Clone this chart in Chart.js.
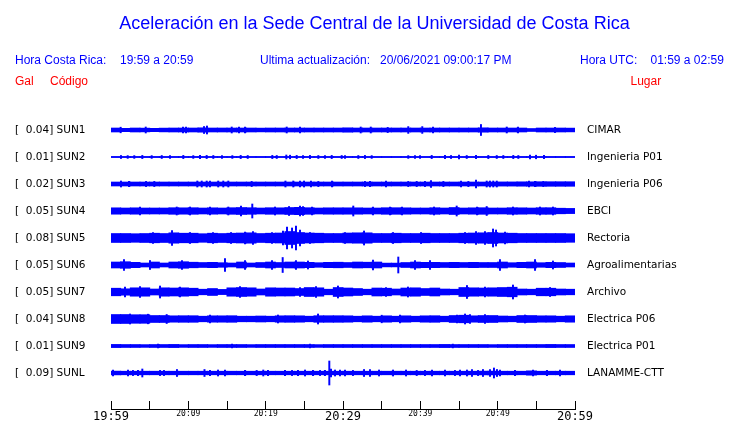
<!DOCTYPE html>
<html>
<head>
<meta charset="utf-8">
<script src="https://cdn.jsdelivr.net/npm/chart.js@4"></script>
<style>
  html, body { margin: 0; padding: 0; background: #fff; }
  #wrap { position: relative; width: 740px; height: 423px; overflow: hidden; }
  #chart { position: absolute; left: 0; top: 0; }
  .t { position: absolute; font-family: "Liberation Sans", Arial, sans-serif; line-height: 1; white-space: pre; }
  .blue { color: #0000ff; }
  .red { color: #ff0000; }
</style>
</head>
<body>
<div id="wrap">
  <canvas id="chart" width="740" height="423"></canvas>
  <div class="t blue" style="left:374.5px; top:14px; font-size:18px; transform:translateX(-50%);">Aceleración en la Sede Central de la Universidad de Costa Rica</div>
  <div class="t blue" style="left:15px; top:54px; font-size:12px;">Hora Costa Rica:</div>
  <div class="t blue" style="left:120px; top:54px; font-size:12px;">19:59 a 20:59</div>
  <div class="t blue" style="left:260px; top:54px; font-size:12px;">Ultima actualización:</div>
  <div class="t blue" style="left:380px; top:54px; font-size:12px;">20/06/2021 09:00:17 PM</div>
  <div class="t blue" style="left:580px; top:54px; font-size:12px;">Hora UTC:</div>
  <div class="t blue" style="left:650.5px; top:54px; font-size:12px;">01:59 a 02:59</div>
  <div class="t red" style="left:15px; top:75px; font-size:12px;">Gal</div>
  <div class="t red" style="left:50px; top:75px; font-size:12px;">Código</div>
  <div class="t red" style="left:630.5px; top:75px; font-size:12px;">Lugar</div>
</div>
<script>
// stations, peak acceleration (Gal) and site names
const stations = ["SUN1", "SUN2", "SUN3", "SUN4", "SUN5", "SUN6", "SUN7", "SUN8", "SUN9", "SUNL"];
const peakGal = [0.04, 0.01, 0.02, 0.05, 0.08, 0.05, 0.05, 0.04, 0.01, 0.09];
const places = ["CIMAR", "Ingenieria P01", "Ingenieria P06", "EBCI", "Rectoria",
  "Agroalimentarias", "Archivo", "Electrica P06", "Electrica P01", "LANAMME-CTT"];

// time axis, one tick every 5 minutes (19:59 -> 20:59)
const timeLabels = ["19:59", "", "20:09", "", "20:19", "", "20:29", "", "20:39", "", "20:49", "", "20:59"];

// envelope of each trace (half amplitude), 48 slots over the hour
const sun1Band = [2.0,1.7,2.0,1.9,1.7,1.9,2.0,2.0,2.0,2.2,2.0,2.0,2.0,2.0,2.0,1.9,2.0,2.0,2.0,2.0,2.0,2.0,2.0,2.0,
  2.2,2.0,2.0,2.0,2.0,2.0,2.0,2.0,2.0,2.0,2.0,2.0,2.0,2.0,2.2,2.0,2.0,2.0,2.0,1.5,2.0,2.0,2.0,1.9];
const sun2Band = [0.6,0.6,0.6,0.6,0.6,0.6,0.6,0.6,0.6,0.6,0.6,0.6,0.6,0.6,0.6,0.6,0.6,0.6,0.6,0.6,0.6,0.6,0.6,0.6,
  0.6,0.6,0.6,0.6,0.6,0.6,0.6,0.6,0.6,0.6,0.6,0.6,0.6,0.6,0.6,0.6,0.6,0.6,0.6,0.6,0.6,0.6,0.6,0.6];
const sun3Band = [2.0,2.0,2.0,2.0,2.0,2.0,2.0,2.0,2.0,2.0,2.0,2.0,2.0,2.0,2.0,2.0,2.0,2.0,2.0,2.0,2.0,2.0,2.0,2.0,
  2.0,2.0,2.0,2.0,2.0,2.0,2.0,2.0,2.0,2.0,2.0,2.0,2.0,2.0,2.0,2.0,2.1,2.1,2.2,2.2,2.3,2.3,2.3,2.3];
const sun4Band = [3.2,3.0,3.2,3.0,3.0,3.0,3.3,3.2,3.3,3.0,3.2,3.0,3.3,3.5,3.3,3.0,3.3,3.2,3.5,3.7,3.3,3.0,3.2,3.2,
  3.2,3.2,3.0,3.0,3.3,3.3,3.2,3.0,3.0,3.3,3.0,3.5,3.0,3.2,3.3,3.0,3.0,3.3,3.2,3.0,3.3,3.3,2.8,2.6];
const sun5Band = [4.5,4.5,4.3,4.5,4.8,4.5,5.2,4.8,4.8,4.3,4.8,4.5,4.8,5.0,5.2,4.5,4.8,5.0,6.5,5.5,5.0,4.8,4.5,4.5,
  5.0,5.2,5.2,4.5,4.5,4.8,4.5,4.5,4.8,4.5,4.5,4.5,4.8,5.0,5.2,5.5,5.0,4.8,4.5,4.5,4.5,4.5,4.5,4.3];
const sun6Band = [3.0,3.3,2.7,2.0,3.0,2.0,3.0,3.3,2.8,2.5,2.7,2.3,2.0,3.0,2.0,2.5,3.0,2.5,3.0,3.0,2.7,2.3,2.7,2.8,
  2.5,3.0,2.8,3.0,1.9,1.9,2.5,3.0,2.7,2.7,2.5,2.7,2.5,2.7,2.5,2.5,3.0,2.3,2.7,3.0,2.3,2.7,2.5,2.0];
const sun7Band = [3.8,3.2,4.2,4.2,3.0,4.2,4.0,4.2,3.8,2.8,3.5,2.6,4.2,4.5,4.2,3.0,4.2,4.0,4.0,3.5,4.5,4.2,2.8,4.5,
  4.0,3.5,2.8,4.0,3.8,3.0,4.0,4.2,3.5,4.0,3.0,2.8,4.5,4.2,4.0,4.2,4.5,4.8,3.0,2.8,3.8,3.8,3.0,2.8];
const sun8Band = [4.5,4.5,4.3,4.3,3.5,3.5,3.2,3.3,3.3,2.8,3.2,3.2,3.3,2.8,2.8,3.0,2.8,3.2,3.3,3.2,2.8,3.3,3.3,3.3,
  3.2,2.8,3.2,2.8,3.2,2.8,3.2,2.8,3.2,3.3,2.8,3.5,3.8,3.2,3.5,3.5,3.0,2.8,3.5,3.5,3.2,3.2,2.8,3.2];
const sun9Band = [1.6,1.5,1.5,1.4,1.5,1.5,1.6,1.4,1.5,1.5,1.4,1.5,1.5,1.5,1.4,1.5,1.5,1.5,1.5,1.5,1.5,1.4,1.5,1.5,
  1.5,1.5,1.5,1.5,1.5,1.5,1.5,1.5,1.5,1.5,1.6,1.5,1.5,1.5,1.5,1.4,1.5,1.5,1.5,1.5,1.5,1.6,1.5,1.5];
const sunlBand = [1.9,1.8,1.8,1.8,1.8,1.8,1.8,1.8,1.8,1.8,1.8,1.8,1.8,1.8,1.8,1.8,1.8,1.8,1.8,1.8,1.8,1.8,1.8,1.8,
  1.8,1.8,1.8,1.8,1.8,1.8,1.8,1.8,1.8,1.8,1.8,1.8,1.8,1.8,1.9,1.9,1.8,1.8,1.8,2.2,1.8,1.8,1.8,1.8];

// individual peaks: minute after 19:59 and half amplitude
const sun1PeakMin = [1.25,4.49,9.31,9.70,12.03,12.41,15.61,16.55,17.33,22.72,24.44,32.29,33.59,35.78,38.44,40.25,41.64,47.84,51.17,52.63,57.41];
const sun1PeakAmp = [2.8,3.0,3.0,2.8,3.5,4.0,3.0,3.0,3.0,3.0,3.0,3.0,3.0,2.6,3.4,3.4,3.0,5.5,3.0,3.0,2.6];
const sun2PeakMin = [1.29,2.16,3.01,4.05,5.26,6.56,7.63,9.35,10.64,11.51,12.37,13.23,14.35,15.69,16.77,17.68,20.86,21.43,22.67,23.15,
  24.01,24.83,25.73,26.81,27.67,28.54,29.83,30.26,31.98,32.84,33.71,38.44,39.31,39.96,41.47,43.19,43.97,45.00,46.00,47.20,
  48.79,49.88,50.73,52.02,52.67,54.18,54.96,55.99];
const sun2PeakAmp = [1.5,1.4,1.4,1.6,1.4,1.5,1.4,1.6,1.4,1.6,1.6,1.5,1.4,1.4,1.6,1.5,1.6,1.5,2.0,1.8,
  1.6,1.5,1.6,1.5,1.4,1.6,1.5,1.4,1.5,1.6,1.4,1.4,1.5,1.4,1.6,1.6,1.5,1.8,1.5,1.6,
  1.6,1.5,1.5,1.6,1.5,2.0,1.8,1.6];
const sun3PeakMin = [1.29,2.33,4.53,5.60,11.16,11.73,12.37,12.80,13.87,14.52,15.17,18.19,22.56,23.57,24.44,24.96,25.86,26.81,28.58,
  32.84,33.49,35.56,38.44,39.53,40.60,41.38,42.98,45.26,46.21,47.20,48.58,49.00,49.43,49.88,54.05,54.83,55.90];
const sun3PeakAmp = [3.0,2.6,2.6,2.6,3.0,3.0,3.0,3.0,3.0,3.0,3.0,2.6,3.0,3.0,3.0,3.0,3.0,2.6,3.0,
  2.6,2.6,3.0,2.6,2.6,2.6,3.5,2.6,3.0,2.6,4.0,3.0,3.0,3.0,3.0,3.0,2.6,2.6];
const sun4PeakMin = [3.75,8.50,10.22,12.80,15.17,16.81,18.27,21.21,23.02,24.44,24.83,25.99,31.33,33.88,36.08,37.63,41.77,44.70,47.33,48.58,51.98,55.47,57.15];
const sun4PeakAmp = [4.0,4.0,4.0,3.8,4.0,5.0,7.0,4.0,4.5,5.0,4.5,4.0,5.0,4.0,4.0,4.0,4.0,5.0,4.0,4.5,4.0,4.0,4.0];
const sun5PeakMin = [5.43,7.89,10.22,13.19,15.52,17.33,18.36,20.82,22.24,22.76,23.41,23.92,24.44,25.73,30.26,32.72,36.47,40.09,45.78,47.20,48.36,49.40,49.79,50.95];
const sun5PeakAmp = [5.5,7.5,5.5,5.5,5.5,6.0,6.5,5.5,7.0,11.0,10.0,12.0,8.0,5.5,5.5,7.0,5.5,5.5,5.5,6.5,6.5,9.0,8.0,6.0];
const sun6PeakMin = [1.68,5.04,9.18,14.74,17.33,20.82,22.20,23.92,25.47,33.88,37.15,39.31,41.25,50.30,54.83,57.15];
const sun6PeakAmp = [5.5,4.5,4.5,6.5,4.5,4.5,7.5,4.5,4.0,5.0,8.0,4.5,4.5,5.5,5.5,4.0];
const sun7PeakMin = [1.81,3.75,6.34,8.92,16.68,24.44,26.51,29.35,35.56,38.40,46.03,48.36,51.98,56.77];
const sun7PeakAmp = [5.0,5.5,6.0,5.0,5.5,4.5,5.5,6.0,4.5,5.0,6.5,5.0,7.0,4.5];
const sun8PeakMin = [2.46,4.78,7.20,12.80,21.59,26.77,35.00,37.37,44.74,45.78,46.42,48.36,53.53];
const sun8PeakAmp = [5.0,4.8,4.5,4.0,4.0,5.0,3.8,3.8,4.0,5.0,4.5,4.5,4.0];
const sun9PeakMin = [6.08,15.65,25.73,44.20];
const sun9PeakAmp = [2.0,1.9,1.9,1.9];
const sunlPeakMin = [0.26,2.20,2.84,3.49,4.05,6.34,6.85,8.53,12.09,12.80,13.84,14.74,17.33,18.84,19.69,20.30,22.50,23.41,24.18,25.09,
  26.12,27.03,27.67,28.23,28.45,28.97,29.61,30.26,31.29,32.72,33.49,34.66,36.47,38.15,39.53,40.60,41.51,43.19,44.48,45.13,
  46.03,46.68,47.46,48.10,49.01,49.52,49.91,50.30,52.24,54.57,56.38,58.06];
const sunlPeakAmp = [3.0,3.0,2.6,2.6,4.0,2.6,2.6,3.5,3.5,2.6,3.0,3.0,2.6,2.6,3.0,2.6,2.6,2.6,2.6,3.0,
  2.6,2.6,2.6,12.0,4.0,3.0,3.0,3.0,2.6,3.5,3.5,3.0,3.0,3.0,2.6,2.6,3.0,3.0,2.6,3.0,
  3.0,3.5,2.6,3.5,3.5,5.0,3.5,3.0,2.6,3.0,2.6,3.0];

const bands = [sun1Band, sun2Band, sun3Band, sun4Band, sun5Band, sun6Band, sun7Band, sun8Band, sun9Band, sunlBand];
const peakMins = [sun1PeakMin, sun2PeakMin, sun3PeakMin, sun4PeakMin, sun5PeakMin, sun6PeakMin, sun7PeakMin, sun8PeakMin, sun9PeakMin, sunlPeakMin];
const peakAmps = [sun1PeakAmp, sun2PeakAmp, sun3PeakAmp, sun4PeakAmp, sun5PeakAmp, sun6PeakAmp, sun7PeakAmp, sun8PeakAmp, sun9PeakAmp, sunlPeakAmp];

// layout of the rows on the value axis
const rowGap = 27;
const topRow = 279;
const offsets = stations.map((s, i) => topRow - i * rowGap);
const traceColor = "#0000ff";

const datasets = [];
stations.forEach((s, i) => {
  const off = offsets[i];
  const slot = 60 / bands[i].length;
  datasets.push({
    label: s,
    data: bands[i].map((a, k) => ({ x: (k + 0.5) * slot, y: [off - a, off + a] })),
    backgroundColor: traceColor,
    borderWidth: 0,
    barThickness: 10,
    grouped: false,
  });
  datasets.push({
    label: s + " picos",
    data: peakMins[i].map((m, k) => ({ x: m, y: [off - peakAmps[i][k], off + peakAmps[i][k]] })),
    backgroundColor: traceColor,
    borderWidth: 0,
    barThickness: 1.3,
    grouped: false,
  });
});

function rowIndex(v) {
  return offsets.indexOf(Math.round(v));
}

const rowTicks = (scale) => {
  scale.ticks = offsets.map((v) => ({ value: v }));
};

// keep the label overhang from pushing the plot area around
const fixWidth = (w) => (s) => {
  s.width = w;
  s.paddingTop = 0;
  s.paddingBottom = 0;
};

new Chart(document.getElementById("chart"), {
  type: "bar",
  data: { datasets },
  options: {
    responsive: false,
    animation: false,
    layout: { padding: { left: 15, top: 100, right: 0, bottom: 0 } },
    plugins: { legend: { display: false }, tooltip: { enabled: false } },
    scales: {
      x: {
        type: "linear",
        position: "bottom",
        min: 0,
        max: 60,
        offset: false,
        grid: { offset: false, drawOnChartArea: false, tickLength: -8, color: "#000", lineWidth: 1 },
        border: { display: true, color: "#000", width: 1 },
        ticks: {
          stepSize: 5,
          autoSkip: false,
          maxRotation: 0,
          padding: 8.5,
          color: "#000",
          font: (ctx) => ({ family: "DejaVu Sans Mono", size: ctx.index % 6 === 0 ? 12 : 8 }),
          callback: (v) => timeLabels[Math.round(v / 5)],
        },
        afterFit: (s) => {
          s.height = 14;
          s.paddingLeft = 0;
          s.paddingRight = 0;
        },
      },
      y: {
        type: "linear",
        position: "left",
        min: 0,
        max: 309,
        grid: { display: false, drawTicks: false },
        border: { display: false },
        afterBuildTicks: rowTicks,
        ticks: {
          autoSkip: false,
          crossAlign: "far",
          padding: 0,
          color: "#000",
          font: { family: "DejaVu Sans", size: 10.5 },
          callback: (v) => {
            const i = rowIndex(v);
            return i < 0 ? "" : "[  " + peakGal[i].toFixed(2) + "] " + stations[i];
          },
        },
        afterFit: fixWidth(96),
      },
      y2: {
        type: "linear",
        position: "right",
        min: 0,
        max: 309,
        grid: { display: false, drawTicks: false },
        border: { display: false },
        afterBuildTicks: rowTicks,
        ticks: {
          autoSkip: false,
          padding: 12,
          color: "#000",
          font: { family: "DejaVu Sans", size: 10.5 },
          callback: (v) => {
            const i = rowIndex(v);
            return i < 0 ? "" : places[i];
          },
        },
        afterFit: fixWidth(165),
      },
    },
  },
});
</script>
</body>
</html>
